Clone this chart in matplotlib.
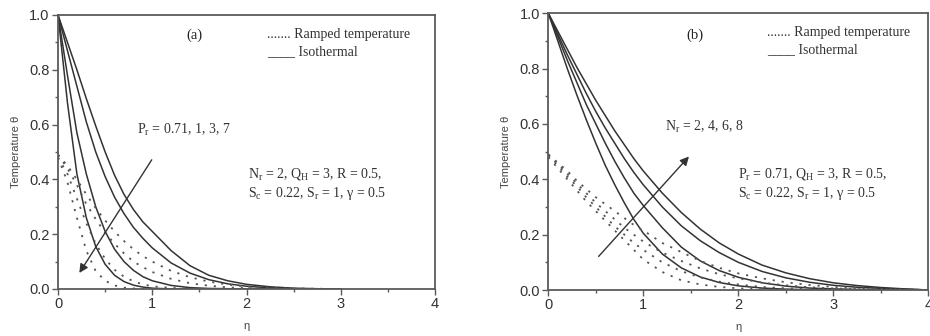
import numpy as np
import matplotlib
matplotlib.use("Agg")
import matplotlib.pyplot as plt
from matplotlib.ticker import MultipleLocator

plt.rcParams['mathtext.fontset'] = 'custom'
plt.rcParams['mathtext.rm'] = 'Liberation Serif'
plt.rcParams['mathtext.it'] = 'Liberation Serif:italic'

# Panel (a): effect of Pr
eta_a = [0, 0.1, 0.2, 0.3, 0.4, 0.5, 0.6, 0.7, 0.8, 0.9, 1.0, 1.2, 1.4, 1.6, 1.8, 2.0, 2.25, 2.5, 2.75, 3.0]
iso_pr071 = [1, 0.9, 0.8, 0.695, 0.595, 0.5, 0.415, 0.345, 0.29, 0.245, 0.21, 0.14, 0.085, 0.05, 0.03, 0.017, 0.008, 0.003, 0.001, 0]
iso_pr1 = [1, 0.87, 0.74, 0.61, 0.5, 0.41, 0.335, 0.275, 0.225, 0.185, 0.15, 0.095, 0.058, 0.034, 0.019, 0.01, 0.004, 0.001, 0, 0]
iso_pr3 = [1, 0.78, 0.57, 0.42, 0.3, 0.21, 0.145, 0.1, 0.068, 0.045, 0.03, 0.013, 0.005, 0.002, 0.001, 0, 0, 0, 0, 0]
iso_pr7 = [1, 0.68, 0.42, 0.26, 0.155, 0.09, 0.05, 0.027, 0.014, 0.007, 0.003, 0, 0, 0, 0, 0, 0, 0, 0, 0]
ramp_pr071 = [0.49, 0.45, 0.4, 0.345, 0.295, 0.25, 0.21, 0.175, 0.145, 0.12, 0.1, 0.066, 0.043, 0.027, 0.016, 0.009, 0.004, 0.002, 0.001, 0]
ramp_pr1 = [0.49, 0.44, 0.38, 0.31, 0.255, 0.205, 0.165, 0.13, 0.1, 0.08, 0.062, 0.037, 0.021, 0.012, 0.006, 0.003, 0.001, 0, 0, 0]
ramp_pr3 = [0.48, 0.42, 0.33, 0.24, 0.165, 0.11, 0.07, 0.045, 0.028, 0.017, 0.01, 0.004, 0.001, 0, 0, 0, 0, 0, 0, 0]
ramp_pr7 = [0.48, 0.39, 0.26, 0.14, 0.065, 0.03, 0.013, 0.005, 0.002, 0, 0, 0, 0, 0, 0, 0, 0, 0, 0, 0]

# Panel (b): effect of Nr
eta_b = [0, 0.1, 0.2, 0.3, 0.4, 0.5, 0.6, 0.7, 0.8, 0.9, 1.0, 1.2, 1.4, 1.6, 1.8, 2.0, 2.25, 2.5, 2.75, 3.0, 3.25, 3.5, 3.75, 4.0]
iso_nr2 = [1, 0.9, 0.8, 0.705, 0.615, 0.53, 0.45, 0.38, 0.315, 0.255, 0.205, 0.13, 0.08, 0.047, 0.027, 0.015, 0.007, 0.003, 0.001, 0, 0, 0, 0, 0]
iso_nr4 = [1, 0.915, 0.83, 0.75, 0.67, 0.6, 0.53, 0.465, 0.405, 0.35, 0.305, 0.225, 0.155, 0.105, 0.07, 0.046, 0.026, 0.014, 0.007, 0.004, 0.002, 0.001, 0, 0]
iso_nr6 = [1, 0.925, 0.85, 0.78, 0.71, 0.645, 0.585, 0.53, 0.475, 0.425, 0.38, 0.3, 0.232, 0.178, 0.135, 0.1, 0.067, 0.044, 0.028, 0.017, 0.01, 0.006, 0.003, 0]
iso_nr8 = [1, 0.935, 0.87, 0.805, 0.745, 0.685, 0.63, 0.575, 0.525, 0.475, 0.43, 0.35, 0.28, 0.22, 0.17, 0.13, 0.09, 0.062, 0.041, 0.026, 0.016, 0.009, 0.004, 0]
ramp_nr2 = [0.48, 0.44, 0.4, 0.36, 0.32, 0.285, 0.25, 0.215, 0.18, 0.145, 0.11, 0.065, 0.035, 0.02, 0.011, 0.006, 0.003, 0.001, 0, 0, 0, 0, 0, 0]
ramp_nr4 = [0.485, 0.45, 0.41, 0.375, 0.335, 0.3, 0.265, 0.23, 0.2, 0.17, 0.145, 0.1, 0.068, 0.045, 0.03, 0.02, 0.011, 0.006, 0.003, 0.002, 0.001, 0, 0, 0]
ramp_nr6 = [0.49, 0.455, 0.42, 0.385, 0.35, 0.315, 0.285, 0.255, 0.225, 0.2, 0.175, 0.135, 0.105, 0.078, 0.057, 0.042, 0.027, 0.017, 0.01, 0.006, 0.003, 0.002, 0.001, 0]
ramp_nr8 = [0.49, 0.46, 0.43, 0.395, 0.365, 0.335, 0.31, 0.285, 0.26, 0.235, 0.215, 0.17, 0.137, 0.105, 0.08, 0.06, 0.042, 0.028, 0.018, 0.011, 0.007, 0.004, 0.002, 0]

line_col = '#333333'
dot_col = '#555555'
frame_col = '#5a5a5a'
txt_col = '#333333'
serif = 'Liberation Serif'
sans = 'Liberation Sans'
fs = 10

fig = plt.figure(figsize=(9.3, 3.36), dpi=100)
ax_a = fig.add_axes([0.0624, 0.1399, 0.4054, 0.8155])
ax_b = fig.add_axes([0.5896, 0.1369, 0.4086, 0.8235])


def estilo_ejes(ax):
    ax.set_xlim(0, 4)
    ax.set_ylim(0, 1.0)
    ax.xaxis.set_minor_locator(MultipleLocator(0.5))
    ax.yaxis.set_minor_locator(MultipleLocator(0.1))
    ax.set_yticks([0, 0.2, 0.4, 0.6, 0.8, 1.0])
    ax.set_yticklabels(['0.0', '0.2', '0.4', '0.6', '0.8', '1.0'])
    ax.set_xticks([0, 1, 2, 3, 4])
    ax.set_xticklabels(['0', '1', '2', '3', '4'])
    for sp in ax.spines.values():
        sp.set_color(frame_col)
        sp.set_linewidth(1.3)
    ax.tick_params(which='major', direction='out', length=4, width=1, color=frame_col,
                   labelsize=10.5, labelcolor='#333333', pad=2)
    ax.tick_params(which='minor', direction='out', length=2.5, width=1, color=frame_col)
    for lab in ax.get_xticklabels() + ax.get_yticklabels():
        lab.set_family(sans)
    ax.set_xlabel('η', fontsize=8, family=sans, color='#444444', labelpad=7)
    ax.set_ylabel('Temperature θ', fontsize=8, family=sans, color='#444444', labelpad=6)


# Panel (a)
for vals in [iso_pr071, iso_pr1, iso_pr3, iso_pr7]:
    ax_a.plot(eta_a, vals, color=line_col, lw=1.1)
for vals in [ramp_pr071, ramp_pr1, ramp_pr3, ramp_pr7]:
    ax_a.plot(eta_a, vals, color=dot_col, lw=1.3, linestyle=(0, (1.2, 3.8)))
estilo_ejes(ax_a)

ax_a.text(0.363, 0.925, '(a)', transform=ax_a.transAxes, ha='center', va='center',
          fontsize=10.5, family=serif, color='#222222')
ax_a.text(0.554, 0.927, '....... Ramped temperature', transform=ax_a.transAxes,
          va='center', fontsize=fs, family=serif, color=txt_col)
ax_a.text(0.554, 0.866, '____ Isothermal', transform=ax_a.transAxes,
          va='center', fontsize=fs, family=serif, color=txt_col)
ax_a.text(0.84, 0.55, r'P$_\mathrm{r}$ = 0.71, 1, 3, 7', va='bottom',
          fontsize=fs, family=serif, color=txt_col)
ax_a.text(2.02, 0.42, r'N$_\mathrm{r}$ = 2, Q$_\mathrm{H}$ = 3, R = 0.5,', va='center',
          fontsize=fs, family=serif, color=txt_col)
ax_a.text(2.02, 0.35, r'S$_\mathrm{c}$ = 0.22, S$_\mathrm{r}$ = 1, γ = 0.5', va='center',
          fontsize=fs, family=serif, color=txt_col)
ax_a.annotate('', xy=(0.21, 0.05), xytext=(1.01, 0.48),
              arrowprops=dict(arrowstyle='-|>', color='#333333', lw=1.0, mutation_scale=13))

# Panel (b)
for vals in [iso_nr2, iso_nr4, iso_nr6, iso_nr8]:
    ax_b.plot(eta_b, vals, color=line_col, lw=1.1)
for vals in [ramp_nr2, ramp_nr4, ramp_nr6, ramp_nr8]:
    ax_b.plot(eta_b, vals, color=dot_col, lw=1.3, linestyle=(0, (1.2, 3.8)))
estilo_ejes(ax_b)

ax_b.text(0.386, 0.92, '(b)', transform=ax_b.transAxes, ha='center', va='center',
          fontsize=10.5, family=serif, color='#222222')
ax_b.text(0.575, 0.931, '....... Ramped temperature', transform=ax_b.transAxes,
          va='center', fontsize=fs, family=serif, color=txt_col)
ax_b.text(0.575, 0.868, '____ Isothermal', transform=ax_b.transAxes,
          va='center', fontsize=fs, family=serif, color=txt_col)
ax_b.text(1.23, 0.59, r'N$_\mathrm{r}$ = 2, 4, 6, 8', va='center',
          fontsize=fs, family=serif, color=txt_col)
ax_b.text(2.0, 0.42, r'P$_\mathrm{r}$ = 0.71, Q$_\mathrm{H}$ = 3, R = 0.5,', va='center',
          fontsize=fs, family=serif, color=txt_col)
ax_b.text(2.0, 0.35, r'S$_\mathrm{c}$ = 0.22, S$_\mathrm{r}$ = 1, γ = 0.5', va='center',
          fontsize=fs, family=serif, color=txt_col)
ax_b.annotate('', xy=(1.5, 0.49), xytext=(0.51, 0.114),
              arrowprops=dict(arrowstyle='-|>', color='#333333', lw=1.0, mutation_scale=13))

fig.savefig('out.png', dpi=100)
